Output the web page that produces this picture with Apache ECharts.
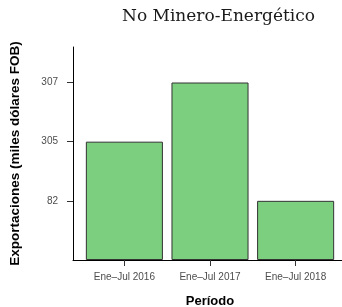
<!DOCTYPE html>
<html>
<head>
<meta charset="utf-8">
<script src="https://cdn.jsdelivr.net/npm/echarts@6/dist/echarts.min.js"></script>
<style>
  html, body { margin: 0; padding: 0; background: #fff; }
  #chart { width: 342px; height: 307px; }
</style>
</head>
<body>
<div id="chart"></div>
<script>
// periodos y exportaciones (el eje y es discreto en el original)
const periodos = ['Ene–Jul 2016', 'Ene–Jul 2017', 'Ene–Jul 2018'];
const exportaciones = [305, 307, 82];
const nivelesY = ['82', '305', '307'];

const chart = echarts.init(document.getElementById('chart'));

const datos = exportaciones.map((v, i) => [i + 1, nivelesY.indexOf(String(v)) + 1]);

const ejeTexto = { color: '#4d4d4d', fontFamily: 'Liberation Sans, Arial, sans-serif', fontSize: 10 };

chart.setOption({
  animation: false,
  title: {
    text: 'No Minero-Energético',
    left: 117,
    top: 3,
    textStyle: {
      fontFamily: 'DejaVu Serif, serif',
      fontWeight: 'normal',
      fontSize: 17,
      color: '#1a1a1a'
    }
  },
  grid: { left: 73, top: 47, width: 274, height: 213, outerBoundsMode: 'none' },
  xAxis: {
    type: 'value',
    min: 0.4,
    max: 3.6,
    name: 'Período',
    nameLocation: 'middle',
    nameGap: 35,
    nameTextStyle: { fontFamily: 'Liberation Sans, Arial, sans-serif', fontWeight: 'bold', fontSize: 13, color: '#000' },
    splitLine: { show: false },
    axisLine: { show: true, lineStyle: { color: '#000', width: 1 } },
    axisTick: { show: true, length: 6, lineStyle: { color: '#333' }, customValues: [1, 2, 3] },
    axisLabel: Object.assign({}, ejeTexto, {
      margin: 12,
      customValues: [1, 2, 3],
      formatter: v => periodos[Math.round(v) - 1] || ''
    })
  },
  yAxis: {
    type: 'value',
    min: 0,
    max: 3.6,
    name: 'Exportaciones (miles dólares FOB)',
    nameLocation: 'middle',
    nameGap: 51,
    nameTextStyle: { fontFamily: 'Liberation Sans, Arial, sans-serif', fontWeight: 'bold', fontSize: 13.5, color: '#000' },
    splitLine: { show: false },
    axisLine: { show: true, lineStyle: { color: '#000', width: 1 } },
    axisTick: { show: true, length: 6, lineStyle: { color: '#333' }, customValues: [1, 2, 3] },
    axisLabel: Object.assign({}, ejeTexto, {
      margin: 15,
      customValues: [1, 2, 3],
      formatter: v => nivelesY[Math.round(v) - 1] || ''
    })
  },
  series: [{
    type: 'bar',
    data: datos,
    barWidth: '90%',
    itemStyle: { color: '#7ccf7e', borderColor: '#333', borderWidth: 1 }
  }]
});
</script>
</body>
</html>
